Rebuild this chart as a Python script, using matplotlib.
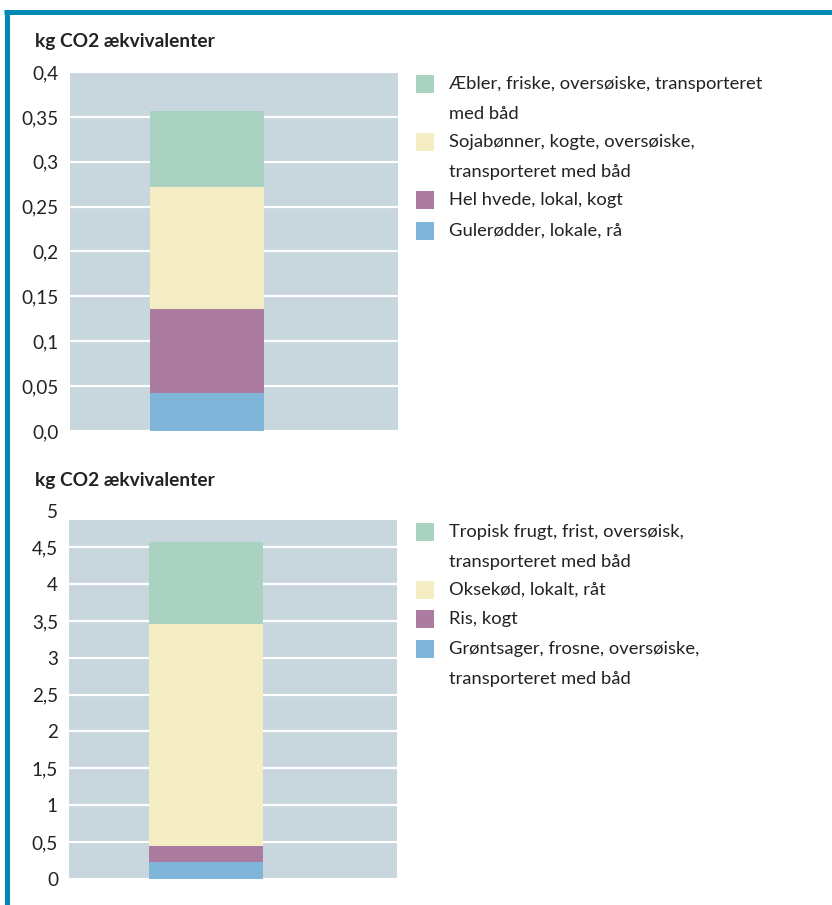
import matplotlib
matplotlib.use("Agg")
import matplotlib.pyplot as plt
from matplotlib.patches import Rectangle
from matplotlib.lines import Line2D

plt.rcParams['font.family'] = ['Lato', 'DejaVu Sans']

# ---- data ----
top_labels = ["Gulerødder, lokale, rå", "Hel hvede, lokal, kogt",
              "Sojabønner, kogte, oversøiske,\ntransporteret med båd",
              "Æbler, friske, oversøiske, transporteret\nmed båd"]
top_values = [0.042, 0.094, 0.136, 0.084]
top_ticks = [0, 0.05, 0.1, 0.15, 0.2, 0.25, 0.3, 0.35, 0.4]
top_ticklabels = ["0,0", "0,05", "0,1", "0,15", "0,2", "0,25", "0,3", "0,35", "0,4"]

bot_labels = ["Grøntsager, frosne, oversøiske,\ntransporteret med båd", "Ris, kogt",
              "Oksekød, lokalt, råt",
              "Tropisk frugt, frist, oversøisk,\ntransporteret med båd"]
bot_values = [0.227, 0.217, 3.016, 1.115]
bot_ticks = [0, 0.5, 1, 1.5, 2, 2.5, 3, 3.5, 4, 4.5, 5]
bot_ticklabels = ["0", "0,5", "1", "1,5", "2", "2,5", "3", "3,5", "4", "4,5", "5"]

ylabel = "kg CO2 ækvivalenter"
colors = ["#7eb5d8", "#ab7ba0", "#f5edc3", "#a9d3c0"]
bg = "#c8d6de"
txt = "#222222"

W, H = 832, 905
fig = plt.figure(figsize=(W / 100, H / 100), dpi=100)

# frame lines (blue)
fig.add_artist(Line2D([4 / W, 1], [1 - 12.5 / H] * 2, color="#0089b5", lw=3.6,
                      transform=fig.transFigure, solid_capstyle="butt"))
fig.add_artist(Line2D([6.5 / W] * 2, [0, 1 - 10 / H], color="#0089b5", lw=3.6,
                      transform=fig.transFigure, solid_capstyle="butt"))

FS = 13.2


def make(ax_rect, values, labels, ticks, ticklabels, ylim, bg_top, title_y, legend_ys):
    ax = fig.add_axes(ax_rect)
    ax.set_facecolor("none")
    ax.axhspan(0, bg_top, color=bg, zorder=0, lw=0)
    bottom = 0
    for v, c in zip(values, colors):
        ax.bar([0], [v], bottom=bottom, width=1.0, color=c, zorder=3, lw=0)
        bottom += v
    ax.set_xlim(-1.202, 1.675)
    ax.set_ylim(*ylim)
    ax.set_yticks(ticks)
    ax.set_yticklabels(ticklabels)
    ax.tick_params(axis="y", length=0, pad=8, labelsize=FS + 0.4, labelcolor=txt)
    ax.set_xticks([])
    for s in ax.spines.values():
        s.set_visible(False)
    ax.yaxis.grid(True, color="white", lw=1.6, zorder=1)
    ax.set_axisbelow(True)
    fig.text(35 / W, 1 - title_y / H, ylabel, fontsize=FS + 0.6, fontweight="bold",
             color=txt, va="center", ha="left")
    # legend, top entry first
    for (lab, c), y in zip(list(zip(labels, colors))[::-1], legend_ys):
        fig.add_artist(Rectangle((416 / W, 1 - (y + 9) / H), 18 / W, 18 / H,
                                 color=c, transform=fig.transFigure, lw=0))
        for i, line in enumerate(lab.split("\n")):
            fig.text(449 / W, 1 - (y + 30 * i) / H, line, fontsize=FS, color=txt,
                     va="center", ha="left")
    return ax


make([70 / W, 1 - 431 / H, 328 / W, 359 / H], top_values, top_labels, top_ticks,
     top_ticklabels, (0, 0.4), 0.4, 41, [84, 142, 200, 231])
make([69 / W, 1 - 878.7 / H, 328 / W, 368.2 / H], bot_values, bot_labels, bot_ticks,
     bot_ticklabels, (0, 5), 4.87, 480, [532, 590, 619, 649])

fig.savefig("out.png", dpi=100, facecolor="white")
